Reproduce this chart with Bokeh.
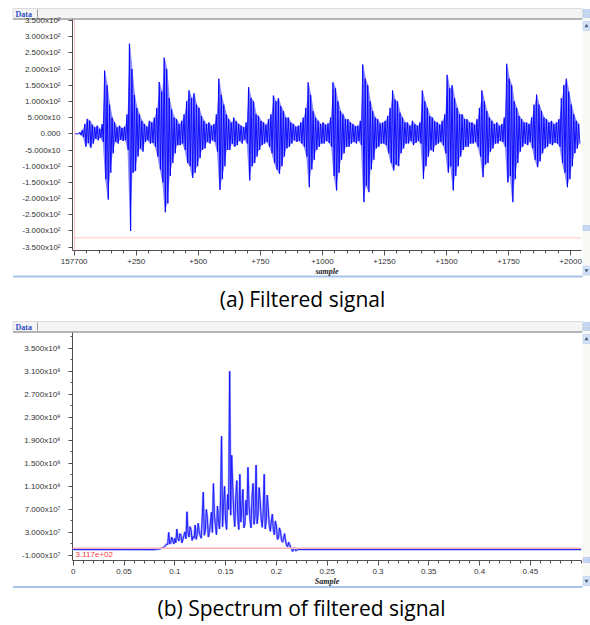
from bokeh.plotting import figure
from bokeh.layouts import column
from bokeh.models import Range1d, FixedTicker, Span, Label, GridBox
from bokeh.embed import file_html
from bokeh.resources import INLINE
from bokeh.core.properties import value

# ---------------- Panel (a): filtered signal, max / min per 10-sample block ----------------
block_start = list(range(0, 2040, 10))  # first sample of each 10-sample block
sig_hi = [0, 0, 5, 12, 30, 46, 40, 28, 20, 25,
          15, 30, 195, 150, 90, 50, 35, 20, 25, 18,
          22, 60, 278, 200, 120, 80, 60, 40, 30, 22,
          40, 35, 50, 80, 160, 130, 235, 200, 110, 75,
          50, 45, 30, 40, 60, 100, 134, 110, 125, 90,
          80, 55, 40, 30, 35, 25, 30, 60, 170, 120,
          90, 60, 45, 35, 50, 38, 30, 25, 20, 35,
          144, 110, 100, 60, 55, 40, 35, 28, 45, 60,
          118, 100, 110, 85, 70, 50, 50, 35, 30, 22,
          25, 35, 50, 80, 159, 120, 70, 50, 40, 30,
          35, 28, 32, 50, 159, 140, 100, 70, 60, 45,
          45, 35, 30, 24, 25, 40, 214, 170, 150, 100,
          70, 50, 45, 32, 35, 40, 55, 80, 134, 105,
          100, 65, 50, 35, 35, 25, 40, 30, 25, 35,
          134, 100, 80, 55, 50, 38, 35, 28, 40, 60,
          182, 140, 150, 110, 80, 60, 60, 45, 45, 35,
          35, 28, 45, 80, 134, 100, 70, 50, 40, 30,
          35, 25, 30, 50, 216, 170, 150, 100, 80, 55,
          45, 35, 35, 30, 50, 90, 121, 90, 70, 50,
          45, 35, 40, 30, 35, 45, 110, 150, 170, 130,
          90, 60, 40, 30]
sig_lo = [0, 0, -4, -10, -40, -28, -43, -30, -15, -20,
          -12, -25, -140, -203, -120, -60, -25, -30, -18, -22,
          -20, -50, -300, -120, -115, -70, -45, -55, -25, -20,
          -30, -28, -40, -70, -110, -150, -242, -215, -130, -90,
          -60, -35, -35, -30, -50, -90, -100, -136, -120, -100,
          -75, -50, -45, -25, -30, -20, -25, -55, -173, -140,
          -100, -50, -50, -30, -40, -35, -22, -30, -18, -30,
          -144, -100, -90, -70, -50, -35, -30, -25, -40, -60,
          -90, -110, -123, -100, -70, -45, -40, -30, -20, -25,
          -22, -30, -40, -70, -165, -110, -80, -50, -40, -30,
          -30, -22, -28, -40, -130, -175, -120, -80, -60, -40,
          -40, -30, -25, -30, -22, -35, -211, -160, -180, -110,
          -80, -45, -40, -30, -30, -35, -60, -90, -113, -95,
          -100, -60, -45, -30, -30, -22, -35, -28, -22, -30,
          -139, -100, -70, -50, -55, -35, -30, -25, -35, -60,
          -120, -100, -175, -130, -100, -70, -50, -40, -40, -30,
          -30, -25, -40, -70, -134, -95, -90, -55, -45, -30,
          -30, -22, -25, -40, -150, -130, -211, -140, -90, -55,
          -40, -30, -35, -25, -45, -80, -103, -85, -60, -45,
          -40, -30, -35, -28, -30, -40, -90, -120, -165, -140,
          -100, -60, -45, -30]
sig_yticks = [350, 300, 250, 200, 150, 100, 50, 0, -50, -100, -150, -200, -250, -300, -350]
sig_ylabels = ["3.500x10²", "3.000x10²", "2.500x10²", "2.000x10²", "1.500x10²", "1.000x10²",
               "5.000x10", "0.000", "-5.000x10", "-1.000x10²", "-1.500x10²", "-2.000x10²",
               "-2.500x10²", "-3.000x10²", "-3.500x10²"]
sig_xticks = [0, 250, 500, 750, 1000, 1250, 1500, 1750, 2000]
sig_xlabels = ["157700", "+250", "+500", "+750", "+1000", "+1250", "+1500", "+1750", "+2000"]
sig_cursor_x = 1
sig_cursor_y = -321

# ---------------- Panel (b): spectrum (values in units of 1e7) ----------------
spec_freq = [0.0,
             0.080, 0.081, 0.082, 0.083, 0.084, 0.085, 0.086, 0.087, 0.088, 0.089,
             0.090, 0.091, 0.092, 0.093, 0.094, 0.095, 0.096, 0.097, 0.098, 0.099,
             0.100, 0.101, 0.102, 0.103, 0.104, 0.105, 0.106, 0.107, 0.108, 0.109,
             0.110, 0.111, 0.112, 0.113, 0.114, 0.115, 0.116, 0.117, 0.118, 0.119,
             0.120, 0.121, 0.122, 0.123, 0.124, 0.125, 0.126, 0.127, 0.128, 0.129,
             0.130, 0.131, 0.132, 0.133, 0.134, 0.135, 0.136, 0.137, 0.138, 0.139,
             0.140, 0.141, 0.142, 0.143, 0.144, 0.145, 0.146, 0.147, 0.148, 0.149,
             0.150, 0.151, 0.152, 0.153, 0.154, 0.155, 0.156, 0.157, 0.158, 0.159,
             0.160, 0.161, 0.162, 0.163, 0.164, 0.165, 0.166, 0.167, 0.168, 0.169,
             0.170, 0.171, 0.172, 0.173, 0.174, 0.175, 0.176, 0.177, 0.178, 0.179,
             0.180, 0.181, 0.182, 0.183, 0.184, 0.185, 0.186, 0.187, 0.188, 0.189,
             0.190, 0.191, 0.192, 0.193, 0.194, 0.195, 0.196, 0.197, 0.198, 0.199,
             0.200, 0.201, 0.202, 0.203, 0.204, 0.205, 0.206, 0.207, 0.208, 0.209,
             0.210, 0.211, 0.212, 0.213, 0.214, 0.215, 0.216, 0.217, 0.218, 0.219,
             0.220, 0.221, 0.222, 0.5]
spec_val = [0.04,
            0.03, 0.04, 0.05, 0.08, 0.10, 0.15, 0.20, 0.30, 0.35, 0.40,
            0.55, 0.8, 1.0, 0.9, 3.0, 1.0, 1.2, 2.2, 1.6, 1.0,
            2.0, 1.2, 3.6, 2.0, 1.5, 2.8, 2.6, 1.2, 1.8, 2.5,
            3.1, 1.9, 6.6, 3.0, 2.2, 4.0, 3.5, 1.6, 2.3, 2.0,
            4.3, 1.8, 2.6, 4.6, 3.2, 2.4, 2.0, 5.5, 10.0, 2.5,
            3.2, 7.0, 5.6, 2.2, 3.0, 4.5, 6.5, 3.0, 11.5, 6.0,
            4.2, 2.6, 7.6, 5.0, 3.6, 8.5, 19.7, 4.0, 8.0, 11.0,
            5.0, 3.5, 9.6, 7.0, 31.0, 6.0, 16.4, 11.0, 6.4, 4.0,
            9.0, 12.0, 5.4, 3.5, 13.1, 4.8, 7.2, 10.5, 3.8, 4.5,
            8.6, 6.0, 14.3, 8.0, 5.2, 3.8, 9.2, 11.5, 4.4, 6.0,
            14.7, 4.5, 6.2, 10.8, 8.6, 5.5, 3.9, 6.5, 13.1, 3.6,
            5.0, 9.5, 7.1, 4.2, 3.2, 5.0, 6.2, 3.5, 2.6, 5.0,
            4.1, 1.8, 2.0, 3.8, 3.2, 1.7, 1.3, 2.0, 2.8, 1.5,
            0.8, 0.5, 1.3, 0.9, 0.4, 0.1, -0.3, 0.3, 0.2, -0.2,
            -0.1, 0.1, 0.04, 0.04]
spec_yticks = [35, 31, 27, 23, 19, 15, 11, 7, 3, -1]
spec_ylabels = ["3.500x10⁸", "3.100x10⁸", "2.700x10⁸", "2.300x10⁸", "1.900x10⁸",
                "1.500x10⁸", "1.100x10⁸", "7.000x10⁷", "3.000x10⁷", "-1.000x10⁷"]
spec_xticks = [0, 0.05, 0.1, 0.15, 0.2, 0.25, 0.3, 0.35, 0.4, 0.45]
spec_xlabels = ["0", "0.05", "0.1", "0.15", "0.2", "0.25", "0.3", "0.35", "0.4", "0.45"]
spec_cursor_y = 0.27
spec_cursor_text = "3.117e+02"

TICK_FONT = "Liberation Sans"
AX_COLOR = "#505050"


def style_axes(p):
    for ax in list(p.xaxis) + list(p.yaxis):
        ax.axis_line_color = AX_COLOR
        ax.major_tick_line_color = AX_COLOR
        ax.minor_tick_line_color = AX_COLOR
        ax.major_tick_in = 0
        ax.minor_tick_in = 0
        ax.major_label_text_font = TICK_FONT
        ax.major_label_text_font_size = "8px"
        ax.major_label_text_color = "#333333"
        ax.axis_label_text_font = "Liberation Serif"
        ax.axis_label_text_font_style = "bold italic"
        ax.axis_label_text_font_size = "8px"
        ax.axis_label_text_color = "#222222"


def base_fig(height, xr, yr, left, top, bottom):
    p = figure(width=590, height=height, x_range=xr, y_range=yr,
               output_backend="svg", toolbar_location=None,
               min_border_left=left, min_border_right=9,
               min_border_top=top, min_border_bottom=bottom)
    p.background_fill_color = None
    p.border_fill_color = None
    p.outline_line_color = None
    p.grid.visible = False
    return p


# ---------------- background (window decorations + captions) ----------------
bg = figure(width=590, height=625, x_range=Range1d(0, 590), y_range=Range1d(625, 0),
            output_backend="svg", toolbar_location=None, min_border=0,
            x_axis_type=None, y_axis_type=None)
bg.outline_line_color = None
bg.grid.visible = False
bg.background_fill_color = "white"
bg.border_fill_color = "white"


def window_chrome(top, bottom, thumb):
    bg.quad(left=12.5, right=582, top=top, bottom=top + 10, fill_color="#f4f4f4",
            line_color="#dcdcdc", line_width=1)
    bg.segment(x0=12.5, y0=top + 10.5, x1=582, y1=top + 10.5, line_color="#b4b4b4", line_width=2)
    bg.segment(x0=37, y0=top + 1, x1=37, y1=top + 9, line_color="#9a9a9a", line_width=1)
    bg.text(x=[15], y=[top + 5.5], text=["Data"], text_font=value("Liberation Serif"),
            text_font_size="8px", text_font_style="bold", text_color="#3050c8",
            text_baseline="middle", text_align="left")
    # scrollbar
    bg.quad(left=582, right=590, top=top, bottom=bottom, fill_color="#f8f8f4", line_color=None)
    bg.quad(left=582.5, right=589.5, top=[top + 1, top + 5.5], bottom=[top + 4.5, top + 9],
            fill_color="#c5d7f2", line_color="#a9bfe4", line_width=0.5)
    bg.quad(left=582.5, right=589.5, top=[top + 13, bottom - 10], bottom=[top + 22, bottom - 1],
            fill_color="#d3e2f7", line_color="#b3c8ea", line_width=0.5)
    bg.scatter(x=[586], y=[top + 17.5], marker="triangle", size=4, fill_color="#4a6288",
               line_color=None)
    bg.scatter(x=[586], y=[bottom - 5.5], marker="inverted_triangle", size=4,
               fill_color="#4a6288", line_color=None)
    bg.quad(left=582.5, right=589.5, top=thumb, bottom=thumb + 5, fill_color="#c5d7f2",
            line_color="#a9bfe4", line_width=0.5)
    bg.segment(x0=12.5, y0=bottom + 0.5, x1=582, y1=bottom + 0.5, line_color="#a7c3e9",
               line_width=2)


window_chrome(8, 275.5, 225)
window_chrome(321, 586, 557)

bg.text(x=[302], y=[298], text=["(a) Filtered signal"], text_align="center",
        text_baseline="middle", text_font=value("Open Sans"), text_font_size="21px",
        text_color="black")
bg.text(x=[301], y=[607], text=["(b) Spectrum of filtered signal"], text_align="center",
        text_baseline="middle", text_font=value("Open Sans"), text_font_size="21px",
        text_color="black")

# ---------------- chart (a) ----------------
pa = base_fig(312, Range1d(-6.8, 2043.9), Range1d(-360.2, 352.8), 71, 19, 62)
style_axes(pa)
ya = pa.yaxis[0]
ya.ticker = FixedTicker(ticks=sig_yticks)
ya.major_label_overrides = {t: l for t, l in zip(sig_yticks, sig_ylabels)}
ya.major_tick_out = 4
ya.minor_tick_out = 0
ya.major_label_standoff = 8
xa = pa.xaxis[0]
xa.ticker = FixedTicker(ticks=sig_xticks, minor_ticks=list(range(0, 2050, 50)))
xa.major_label_overrides = {t: l for t, l in zip(sig_xticks, sig_xlabels)}
xa.major_tick_out = 5
xa.minor_tick_out = 3
xa.major_label_standoff = 3
xa.axis_label = "sample"
xa.axis_label_standoff = 0

centers = [s + 5 for s in block_start]
pa.varea(x=centers, y1=sig_lo, y2=sig_hi, fill_color="#8c8cff")
zx, zy = [], []
for s, h, l in zip(block_start, sig_hi, sig_lo):
    zx += [s + 2.5, s + 7.5]
    zy += [h, l]
pa.line(zx, zy, line_color="#0000ff", line_width=0.9)
pa.add_layout(Span(location=sig_cursor_y, dimension="width", line_color="#ffc4c4", line_width=1))
pa.add_layout(Span(location=sig_cursor_x, dimension="height", line_color="#ffc4c4", line_width=1))

# ---------------- chart (b) ----------------
pb = base_fig(313, Range1d(-0.0007, 0.5003), Range1d(-1.87, 37.73), 72, 20, 65)
style_axes(pb)
yb = pb.yaxis[0]
yb.ticker = FixedTicker(ticks=spec_yticks, minor_ticks=list(range(-1, 38, 2)))
yb.major_label_overrides = {t: l for t, l in zip(spec_yticks, spec_ylabels)}
yb.major_tick_out = 4
yb.minor_tick_out = 2
yb.major_label_standoff = 8
xb = pb.xaxis[0]
xb.ticker = FixedTicker(ticks=spec_xticks, minor_ticks=[i / 100 for i in range(0, 51)])
xb.major_label_overrides = {t: l for t, l in zip(spec_xticks, spec_xlabels)}
xb.major_tick_out = 5
xb.minor_tick_out = 3
xb.major_label_standoff = 3
xb.axis_label = "Sample"
xb.axis_label_standoff = 0

pb.add_layout(Span(location=spec_cursor_y, dimension="width", line_color="#ffb4b4", line_width=1.5))
pb.line(spec_freq, spec_val, line_color="#a0a0ff", line_width=2.2)
pb.line(spec_freq, spec_val, line_color="#1414ff", line_width=0.9)
pb.add_layout(Label(x=0.0023, y=-0.83, text=spec_cursor_text, text_color="#ff3a3a",
                    text_font=TICK_FONT, text_font_size="8px", text_baseline="middle"))

charts = column(pa, pb, spacing=0)
grid = GridBox(children=[(bg, 0, 0), (charts, 0, 0)])

open("out.html", "w").write(file_html(grid, INLINE))
